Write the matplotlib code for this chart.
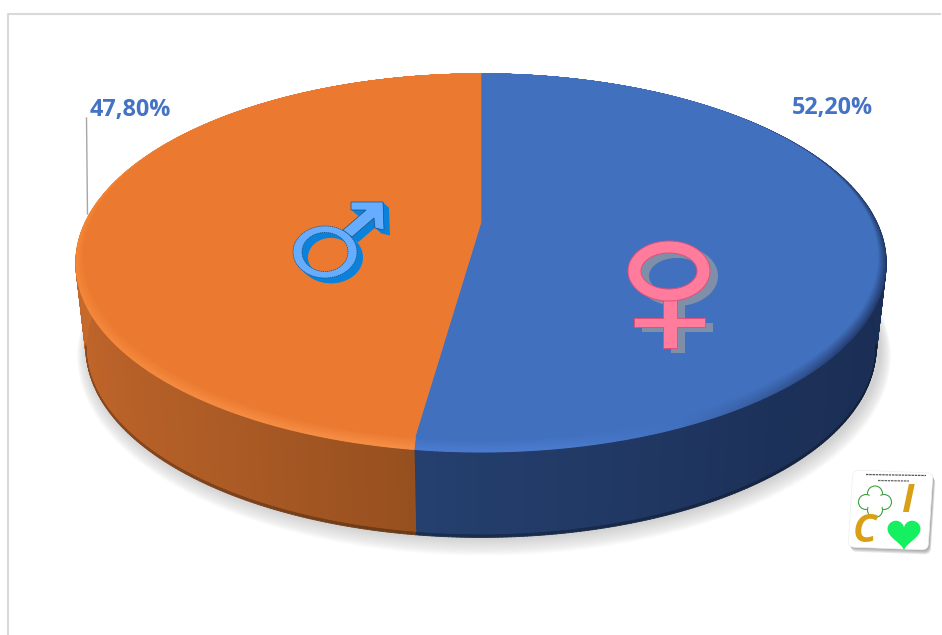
#!/usr/bin/env python3
"""Perspective 3D pie of the female / male split, drawn in pixel coordinates."""

import matplotlib
matplotlib.use('Agg')
import matplotlib.pyplot as plt
import numpy as np
from matplotlib.collections import PolyCollection
from matplotlib.colors import to_rgb
from matplotlib.patches import Circle, FancyBboxPatch, PathPatch, Polygon
from matplotlib.path import Path
from matplotlib.transforms import Affine2D

# data, clockwise from twelve o'clock
CATEGORIES = ['female', 'male']
SHARES = [52.20, 47.80]
SHARE_LABELS = ['52,20%', '47,80%']

# ---------------------------------------------------------------------
# CONFIG
# ---------------------------------------------------------------------
WIDTH, HEIGHT = 942, 635
CX = 481
TOP_Y0, BOTTOM_Y0 = 228, 313.5
TOP_X, BOTTOM_X = 398, 388
SCALE_Y = 182.5
PERSP = 0.185
LABEL_FONT = 'Open Sans'

FACE = {'female': '#4170BE', 'male': '#EB7A30'}
# (theta, colour) stops along the rim and the side wall
RIM = {
    'female': [(0, '#4170BE'), (35, '#3A66AE'), (70, '#1C3158'), (125, '#22396A'),
               (155, '#4170BE'), (172, '#4C7DD2'), (188, '#4C7DD2')],
    'male': [(188, '#F8924A'), (240, '#F58A3E'), (285, '#F8882F'), (325, '#EE7E34'), (360, '#EB7A30')],
}
SIDE = {
    'female': [(0, '#1A2C52'), (90, '#1A2C52'), (140, '#1C3159'), (188, '#25406F')],
    'male': [(188, '#96501F'), (215, '#AE5C26'), (250, '#C0652A'), (280, '#CC6F2E'), (360, '#CC6F2E')],
}


def project(theta, y0, x_scale, y_scale=SCALE_Y):
    rad = np.radians(theta)
    u, v = np.sin(rad), -np.cos(rad)
    w = 1 - PERSP * v
    return CX + x_scale * u / w, y0 + y_scale * v / w


def stop_colour(stops, theta):
    xs = [s[0] for s in stops]
    rgb = np.array([to_rgb(s[1]) for s in stops])
    return np.column_stack([np.interp(theta, xs, rgb[:, i]) for i in range(3)])


def band(ax, theta, outer, inner, colours, lw=1.0):
    x0, y0 = outer
    x1, y1 = inner
    quads = [[(x0[i], y0[i]), (x0[i + 1], y0[i + 1]), (x1[i + 1], y1[i + 1]), (x1[i], y1[i])]
             for i in range(len(theta) - 1)]
    mid = colours[:-1]
    ax.add_collection(PolyCollection(quads, facecolors=mid, edgecolors=mid, linewidths=lw))


def ring_path(cx, cy, rx, ry, ix, iy):
    t = np.linspace(0, 2 * np.pi, 120)
    outer = np.column_stack([cx + rx * np.cos(t), cy + ry * np.sin(t)])
    inner = np.column_stack([cx + ix * np.cos(t[::-1]), cy + iy * np.sin(t[::-1])])
    return Path.make_compound_path(Path(outer, closed=False), Path(inner, closed=False))


def draw_pie(ax, edges):
    # soft ground shadow hugging the lower edge
    round_theta = np.linspace(0, 360, 361)
    for grow in np.arange(20, 0, -1):
        sx, sy = project(round_theta, BOTTOM_Y0 + grow * 0.3, BOTTOM_X + 1 + grow * 0.55, SCALE_Y + grow * 0.5)
        ax.add_patch(Polygon(np.column_stack([sx + 3, sy]), closed=True, fc='#707070', ec='none',
                             alpha=0.014, zorder=1))

    for k, name in enumerate(CATEGORIES):
        start, end = edges[k], edges[k + 1]
        theta = np.linspace(start, end, int(end - start) * 2 + 2)
        side = stop_colour(SIDE[name], theta)
        # side wall, with a thin darker lip along the front bottom edge
        f = 0.97
        lip = np.where(np.abs(theta - 180) < 80, 0.72, 1.0)[:, None]
        y_mid = TOP_Y0 + (BOTTOM_Y0 - TOP_Y0) * f
        x_mid = TOP_X + (BOTTOM_X - TOP_X) * f
        band(ax, theta, project(theta, TOP_Y0, TOP_X), project(theta, y_mid, x_mid), side)
        band(ax, theta, project(theta, y_mid, x_mid), project(theta, BOTTOM_Y0, BOTTOM_X), side * lip, lw=0.6)

    for k, name in enumerate(CATEGORIES):
        start, end = edges[k], edges[k + 1]
        theta = np.linspace(start, end, int(end - start) * 2 + 2)
        rim = stop_colour(RIM[name], theta)
        face = np.array(to_rgb(FACE[name]))
        # bevel: thin at the back, wide at the front
        steps = 10
        prev = project(theta, TOP_Y0, TOP_X)
        for j in range(1, steps + 1):
            t = j / steps
            cur = project(theta, TOP_Y0 - 5.5 * t, TOP_X - 9 * t, SCALE_Y - 6.5 * t)
            band(ax, theta, prev, cur, rim * (1 - t) + face * t, lw=0.8)
            prev = cur
        apex = (CX, TOP_Y0 - 5.5)
        ax.add_patch(Polygon(np.vstack([[apex], np.column_stack(prev)]), closed=True,
                             fc=FACE[name], ec=FACE[name], lw=0.4, zorder=3))


def draw_female(ax):
    for dx, dy, col, edge in [(8, 5, '#7F8FA9', 'none'), (0, 0, '#FF7C9C', '#E0507A')]:
        parts = [
            Polygon([(663 + dx, 298 + dy), (677 + dx, 298 + dy), (677 + dx, 318 + dy), (705 + dx, 318 + dy),
                     (705 + dx, 327 + dy), (677 + dx, 327 + dy), (677 + dx, 348 + dy), (663 + dx, 348 + dy),
                     (663 + dx, 327 + dy), (634 + dx, 327 + dy), (634 + dx, 318 + dy), (663 + dx, 318 + dy)],
                    closed=True, fc=col, ec=edge, lw=0.7, zorder=5),
            PathPatch(ring_path(669 + dx, 271 + dy, 41, 30, 28, 18), fc=col, ec=edge, lw=0.7, zorder=5),
        ]
        for p in parts:
            ax.add_patch(p)


def draw_male(ax):
    arrow = np.array([(351, 202), (383, 202), (384, 230), (375, 228), (374, 218), (352, 237),
                      (343, 230), (366, 210), (351, 210)], dtype=float)
    for d in np.arange(6, 0, -1):
        ax.add_patch(Polygon(arrow + d * np.array([1, 0.9]), closed=True, fc='#0A82DC', ec='none', zorder=5))
        ax.add_patch(PathPatch(ring_path(325 + d, 252 + d * 0.9, 32, 26, 23, 19.5),
                               fc='#0A82DC', ec='none', zorder=5))
    ax.add_patch(Polygon(arrow, closed=True, fc='#66ADFF', ec='#1F4E79', lw=0.5, zorder=6))
    ax.add_patch(PathPatch(ring_path(325, 252, 32, 26, 23, 19.5), fc='#66ADFF', ec='#1F4E79', lw=0.5,
                           ls=(0, (2, 1)), zorder=6))


def draw_logo(ax):
    # unit square mapped on the slightly skewed card
    tl, tr, bl = np.array([853, 470.]), np.array([933, 473.]), np.array([848, 547.])
    a, b = tr - tl, bl - tl
    card = Affine2D.from_values(a[0], a[1], b[0], b[1], tl[0], tl[1])
    for i in range(5):
        shadow = Affine2D().translate(1 + i * 0.4, 1 + i * 0.9)
        ax.add_patch(FancyBboxPatch((0.03, 0.03), 0.94, 0.94, boxstyle='round,pad=0.03,rounding_size=0.08',
                                    fc='#555555', ec='none', alpha=0.12, zorder=7,
                                    transform=card + shadow + ax.transData))
    ax.add_patch(FancyBboxPatch((0.03, 0.03), 0.94, 0.94, boxstyle='round,pad=0.03,rounding_size=0.08',
                                fc='white', ec='#EFEFEF', lw=0.5, zorder=8, transform=card + ax.transData))
    # caption too small to read in the source: two faint strokes stand in for it
    ax.plot([866, 926], [474.5, 475.5], color='#555555', lw=0.9, ls=(0, (2, 0.6)), zorder=9)
    ax.plot([878, 909], [480.5, 481], color='#666666', lw=0.9, ls=(0, (2, 0.6)), zorder=9)
    for x, y in [(875, 493.5), (866, 502), (884, 502), (875, 510)]:
        ax.add_patch(Circle((x, y), 7.5, fc='white', ec='#3FA23F', lw=0.8, zorder=9))
    ax.add_patch(Circle((875, 502), 8.5, fc='white', ec='none', zorder=9))
    ax.text(865, 531, 'C', color='#D9A015', fontsize=28, fontweight='bold', style='italic', family=LABEL_FONT,
            ha='center', va='center', zorder=10)
    ax.text(908, 501, 'I', color='#D9A015', fontsize=28, fontweight='bold', style='italic', family=LABEL_FONT,
            ha='center', va='center', zorder=10)
    t = np.linspace(0, 2 * np.pi, 100)
    hx = 16 * np.sin(t) ** 3
    hy = 13 * np.cos(t) - 5 * np.cos(2 * t) - 2 * np.cos(3 * t) - np.cos(4 * t)
    ax.add_patch(Polygon(np.column_stack([904 + hx * 1.03, 533 - hy * 1.03]), closed=True,
                         fc='#14F060', ec='none', zorder=10))


def main():
    fig = plt.figure(figsize=(WIDTH / 100, HEIGHT / 100), dpi=100)
    ax = fig.add_axes([0, 0, 1, 1])
    ax.set_xlim(0, WIDTH)
    ax.set_ylim(HEIGHT, 0)
    ax.axis('off')

    # chart frame
    ax.plot([7.5, 7.5, WIDTH - 2], [HEIGHT, 13.5, 13.5], color='#D9D9D9', lw=1.5)

    edges = np.concatenate([[0], np.cumsum(SHARES)]) / np.sum(SHARES) * 360
    draw_pie(ax, edges)
    draw_female(ax)
    draw_male(ax)
    draw_logo(ax)

    label_style = dict(color='#4472C4', fontsize=16.8, fontweight='bold', family=LABEL_FONT,
                       ha='center', va='center', zorder=10)
    ax.text(832.5, 108, SHARE_LABELS[0], **label_style)
    ax.text(130.5, 110, SHARE_LABELS[1], **label_style)
    ax.plot([86.5, 87.5], [118, 214], color='#A6A6A6', lw=1.0, zorder=2)

    fig.savefig('out.png', dpi=100)
    plt.close(fig)


if __name__ == '__main__':
    main()
